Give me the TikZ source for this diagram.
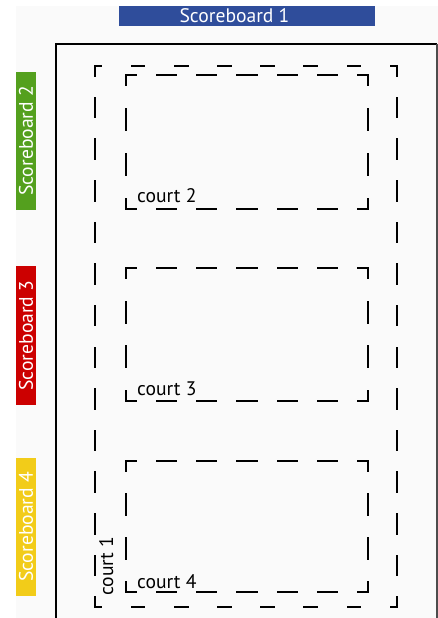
\documentclass[tikz,border=0pt]{standalone}
\usepackage{fontspec}
\setmainfont{PT Sans}
\usepackage{tikz}
\usetikzlibrary{calc}
\usetikzlibrary{positioning}
\definecolor{sbblue}{RGB}{47,77,155}
\definecolor{sbgreen}{RGB}{84,160,30}
\definecolor{sbred}{RGB}{204,0,0}
\definecolor{sbyellow}{RGB}{242,204,25}
\definecolor{floor}{RGB}{250,250,250}
% one dashed side, from (#1,#2) to (#3,#4), dash length #5
\newcommand{\dside}[5]{%
  \pgfmathsetmacro{\slen}{veclen(#3-#1,#4-#2)}%
  \pgfmathsetmacro{\snum}{max(1,round(\slen/42))}%
  \pgfmathsetmacro{\sgap}{\slen/\snum-#5}%
  \pgfmathsetmacro{\sph}{#5/2}%
  \draw[courtline,dash pattern=on #5pt off \sgap pt,dash phase=\sph pt] (#1,#2) -- (#3,#4);}
% a court: corners (#1,#2) and (#3,#4), dash #5 across, #6 down
\newcommand{\courtbox}[6]{%
  \dside{#1}{#2}{#3}{#2}{#5}
  \dside{#3}{#2}{#3}{#4}{#6}
  \dside{#3}{#4}{#1}{#4}{#5}
  \dside{#1}{#4}{#1}{#2}{#6}}

\begin{document}
\begin{tikzpicture}[x=1pt,y=-1pt,
    courtline/.style={line width=1.6pt,line cap=rect},
    board/.style={inner sep=0pt,minimum height=20pt,text=white,
      font=\fontsize{19.6}{22}\selectfont},
    label/.style={inner sep=0pt,font=\fontsize{19.6}{22}\selectfont}]
  \useasboundingbox (0,0) rectangle (438,618);
  \fill[floor] (16,6) rectangle (438,618);
  % hall wall
  \draw[line width=1.6pt] (56,630) |- (437,44);
  \draw[line width=1.2pt,black!70] (437,44) -- (437,630);
  % scoreboards
  \node[board,fill=sbblue,minimum width=256pt] (sb1) at (247,16) {};
  \node[board] (sb1text) at (234.5,16) {Scoreboard 1};
  \node[board,fill=sbgreen,minimum width=138pt,rotate=90] (sb2) at (26,141) {Scoreboard 2};
  \node[board,fill=sbred,minimum width=139pt,rotate=90] (sb3) at (26,335.5) {Scoreboard 3};
  \node[board,fill=sbyellow,minimum width=138pt,rotate=90] (sb4) at (26,527) {Scoreboard 4};
  % courts
  \courtbox{95}{66}{397}{607}{13}{20}
  \courtbox{126}{75}{368}{209}{20}{21}
  \courtbox{126}{268}{368}{401}{20}{21}
  \courtbox{126}{461}{368}{592}{20}{21}
  \node[label,anchor=base west,rotate=90] (c1) at (113,596) {court 1};
  \node[label,anchor=base west] (c2) at (137,202) {court 2};
  \node[label,anchor=base west] (c3) at (137,395) {court 3};
  \node[label,anchor=base west] (c4) at (137,588) {court 4};
\end{tikzpicture}
\end{document}
